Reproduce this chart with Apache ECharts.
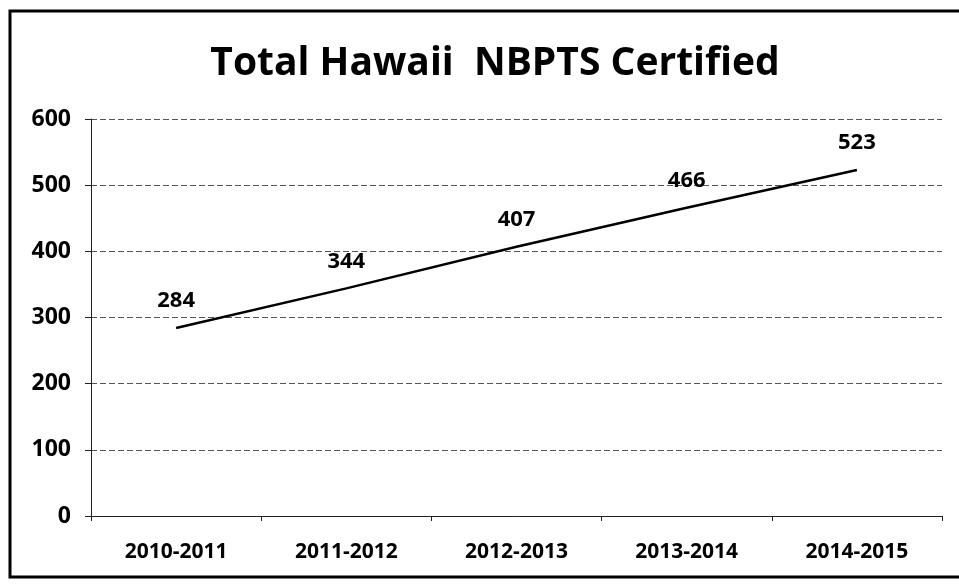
<!DOCTYPE html>
<html>
<head>
<meta charset="utf-8">
<script src="https://cdn.jsdelivr.net/npm/echarts@6/dist/echarts.min.js"></script>
<style>
html,body{margin:0;padding:0;background:#fff;}
#chart{width:959px;height:587px;}
</style>
</head>
<body>
<div id="chart"></div>
<script>
var titleText = 'Total Hawaii  NBPTS Certified';
var categories = ['2010-2011', '2011-2012', '2012-2013', '2013-2014', '2014-2015'];
var certified = [284, 344, 407, 466, 523];
var yMin = 0, yMax = 600, yStep = 100;

var chart = echarts.init(document.getElementById('chart'));
var font = '"Open Sans", "Noto Sans", sans-serif';
chart.setOption({
  backgroundColor: '#fff',
  animation: false,
  title: {
    text: titleText,
    left: 490,
    top: 39,
    textAlign: 'center',
    textStyle: {fontFamily: font, fontSize: 39, fontWeight: 'bold', color: '#000'}
  },
  graphic: [{
    type: 'rect',
    shape: {x: 10, y: 11, width: 960, height: 566},
    style: {fill: 'none', stroke: '#000', lineWidth: 3}
  }],
  grid: {left: 91, right: 17, top: 119, bottom: 71},
  xAxis: {
    type: 'category',
    data: categories,
    boundaryGap: true,
    axisLine: {lineStyle: {color: '#222', width: 1}},
    axisTick: {show: true, length: 5, lineStyle: {color: '#222'}},
    axisLabel: {fontFamily: font, fontSize: 21, fontWeight: 'bold', color: '#000', margin: 26}
  },
  yAxis: {
    type: 'value',
    min: yMin, max: yMax, interval: yStep,
    axisLine: {show: true, lineStyle: {color: '#222', width: 1}},
    axisTick: {show: true, length: 6, lineStyle: {color: '#222'}},
    axisLabel: {fontFamily: font, fontSize: 23, fontWeight: 'bold', color: '#000', margin: 20},
    splitLine: {show: true, lineStyle: {color: '#555', width: 1, type: [6, 3]}}
  },
  series: [{
    type: 'line',
    data: certified,
    symbol: 'circle',
    symbolSize: 0,
    lineStyle: {color: '#000', width: 2.5},
    itemStyle: {color: '#000'},
    label: {
      show: true,
      position: 'top',
      distance: 16,
      fontFamily: font,
      fontSize: 22,
      fontWeight: 'bold',
      color: '#000'
    }
  }]
});
</script>
</body>
</html>
